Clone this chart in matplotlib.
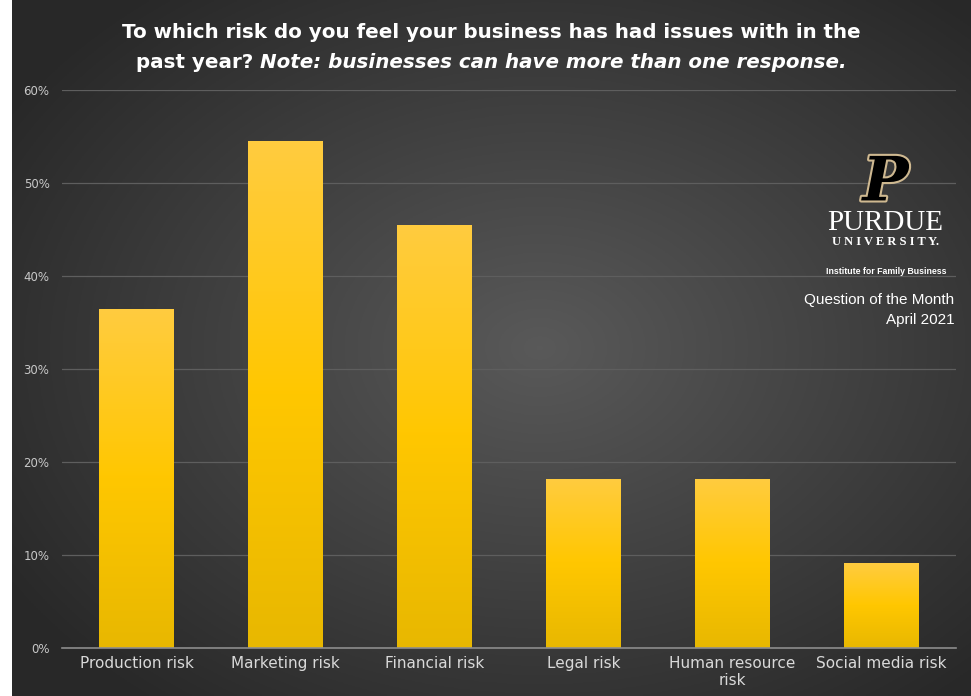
import numpy as np
import matplotlib
matplotlib.use("Agg")
import matplotlib.pyplot as plt
import matplotlib.patheffects as pe
from matplotlib.ticker import FuncFormatter

categories = ["Production risk", "Marketing risk", "Financial risk",
              "Legal risk", "Human resource\nrisk", "Social media risk"]
shares = [36.4, 54.5, 45.5, 18.2, 18.2, 9.1]
y_ticks = [0, 10, 20, 30, 40, 50, 60]

W, H = 971, 696
fig = plt.figure(figsize=(W / 100, H / 100), dpi=100)
fig.patch.set_facecolor("white")

# radial dark background (white strip at far left like the screenshot)
bg = fig.add_axes([12 / W, 0, 1 - 12 / W, 1])
yy, xx = np.mgrid[0:1:300j, 0:1:400j]
r = np.sqrt(((xx - 0.55) / 0.75) ** 2 + ((yy - 0.5) / 0.75) ** 2)
shade = np.clip(0.35 - 0.22 * r, 0.16, 0.35)
bg.imshow(np.dstack([shade] * 3), aspect="auto", extent=[0, 1, 0, 1])
bg.set_axis_off()

ax = fig.add_axes([62 / W, 48 / H, 894 / W, 558 / H])
ax.set_facecolor("none")
x = np.arange(len(categories))
bars = ax.bar(x, shares, width=0.5, color="none", zorder=3)

# vertical gold gradient in each bar
grad = np.linspace(0, 1, 256).reshape(-1, 1)
top = np.array([1.0, 0.80, 0.25])
mid = np.array([1.0, 0.78, 0.0])
bot = np.array([0.91, 0.72, 0.0])
g = grad[..., None]
cols = np.where(g < 0.5, top + (mid - top) * (g / 0.5),
                mid + (bot - mid) * ((g - 0.5) / 0.5))
for b in bars:
    x0, w, h = b.get_x(), b.get_width(), b.get_height()
    im = ax.imshow(cols, extent=[x0, x0 + w, 0, h], aspect="auto", zorder=3)
    im.set_clip_path(b)

ax.set_xlim(-0.5, len(categories) - 0.5)
ax.set_ylim(0, 60)
ax.set_yticks(y_ticks)
ax.yaxis.set_major_formatter(FuncFormatter(lambda v, _: f"{v:.0f}%"))
ax.set_xticks(x)
ax.set_xticklabels(categories, fontsize=11, color="#d9d9d9", linespacing=1.1)
ax.tick_params(axis="y", colors="#c8c8c8", labelsize=8.5, length=0, pad=9)
ax.tick_params(axis="x", length=0, pad=6)
ax.grid(axis="y", color="#5e5e5e", linewidth=0.9, zorder=0)
for s in ["top", "right", "left"]:
    ax.spines[s].set_visible(False)
ax.spines["bottom"].set_color("#8c8c8c")
ax.spines["bottom"].set_linewidth(1.2)
ax.spines["bottom"].set_zorder(4)

# title, second line partly italic
tkw = dict(va="baseline", fontsize=14.3, color="white", fontweight="bold")
fig.text(0.506, 0.945, "To which risk do you feel your business has had issues with in the",
         ha="center", **tkw)
part1 = fig.text(0, 0.903, "past year? ", ha="left", **tkw)
part2 = fig.text(0, 0.903, "Note: businesses can have more than one response.",
                 ha="left", fontstyle="italic", **tkw)
fig.canvas.draw()
w1 = part1.get_window_extent().width
w2 = part2.get_window_extent().width
start = 0.506 * W - (w1 + w2) / 2
part1.set_x(start / W)
part2.set_x((start + w1) / W)

# Purdue logo block
fig.text(0.912, 0.712, "P", ha="center", va="baseline", fontsize=44,
         family="DejaVu Serif", fontweight="bold", fontstyle="italic",
         color="black",
         path_effects=[pe.withStroke(linewidth=3, foreground="#cfb991")])
fig.text(0.912, 0.670, "PURDUE", ha="center", va="baseline", fontsize=21,
         family="Liberation Serif", color="white")
fig.text(0.912, 0.648, "U N I V E R S I T Y.", ha="center", va="baseline",
         fontsize=9, family="Liberation Serif", fontweight="bold", color="white")
fig.text(0.975, 0.607, "Institute for Family Business", ha="right", va="baseline",
         fontsize=6.3, fontweight="bold", color="white", family="Liberation Sans")
fig.text(0.983, 0.563, "Question of the Month", ha="right", va="baseline",
         fontsize=11, color="white", family="Liberation Sans")
fig.text(0.983, 0.535, "April 2021", ha="right", va="baseline",
         fontsize=11, color="white", family="Liberation Sans")

fig.savefig("out.png", dpi=100)
